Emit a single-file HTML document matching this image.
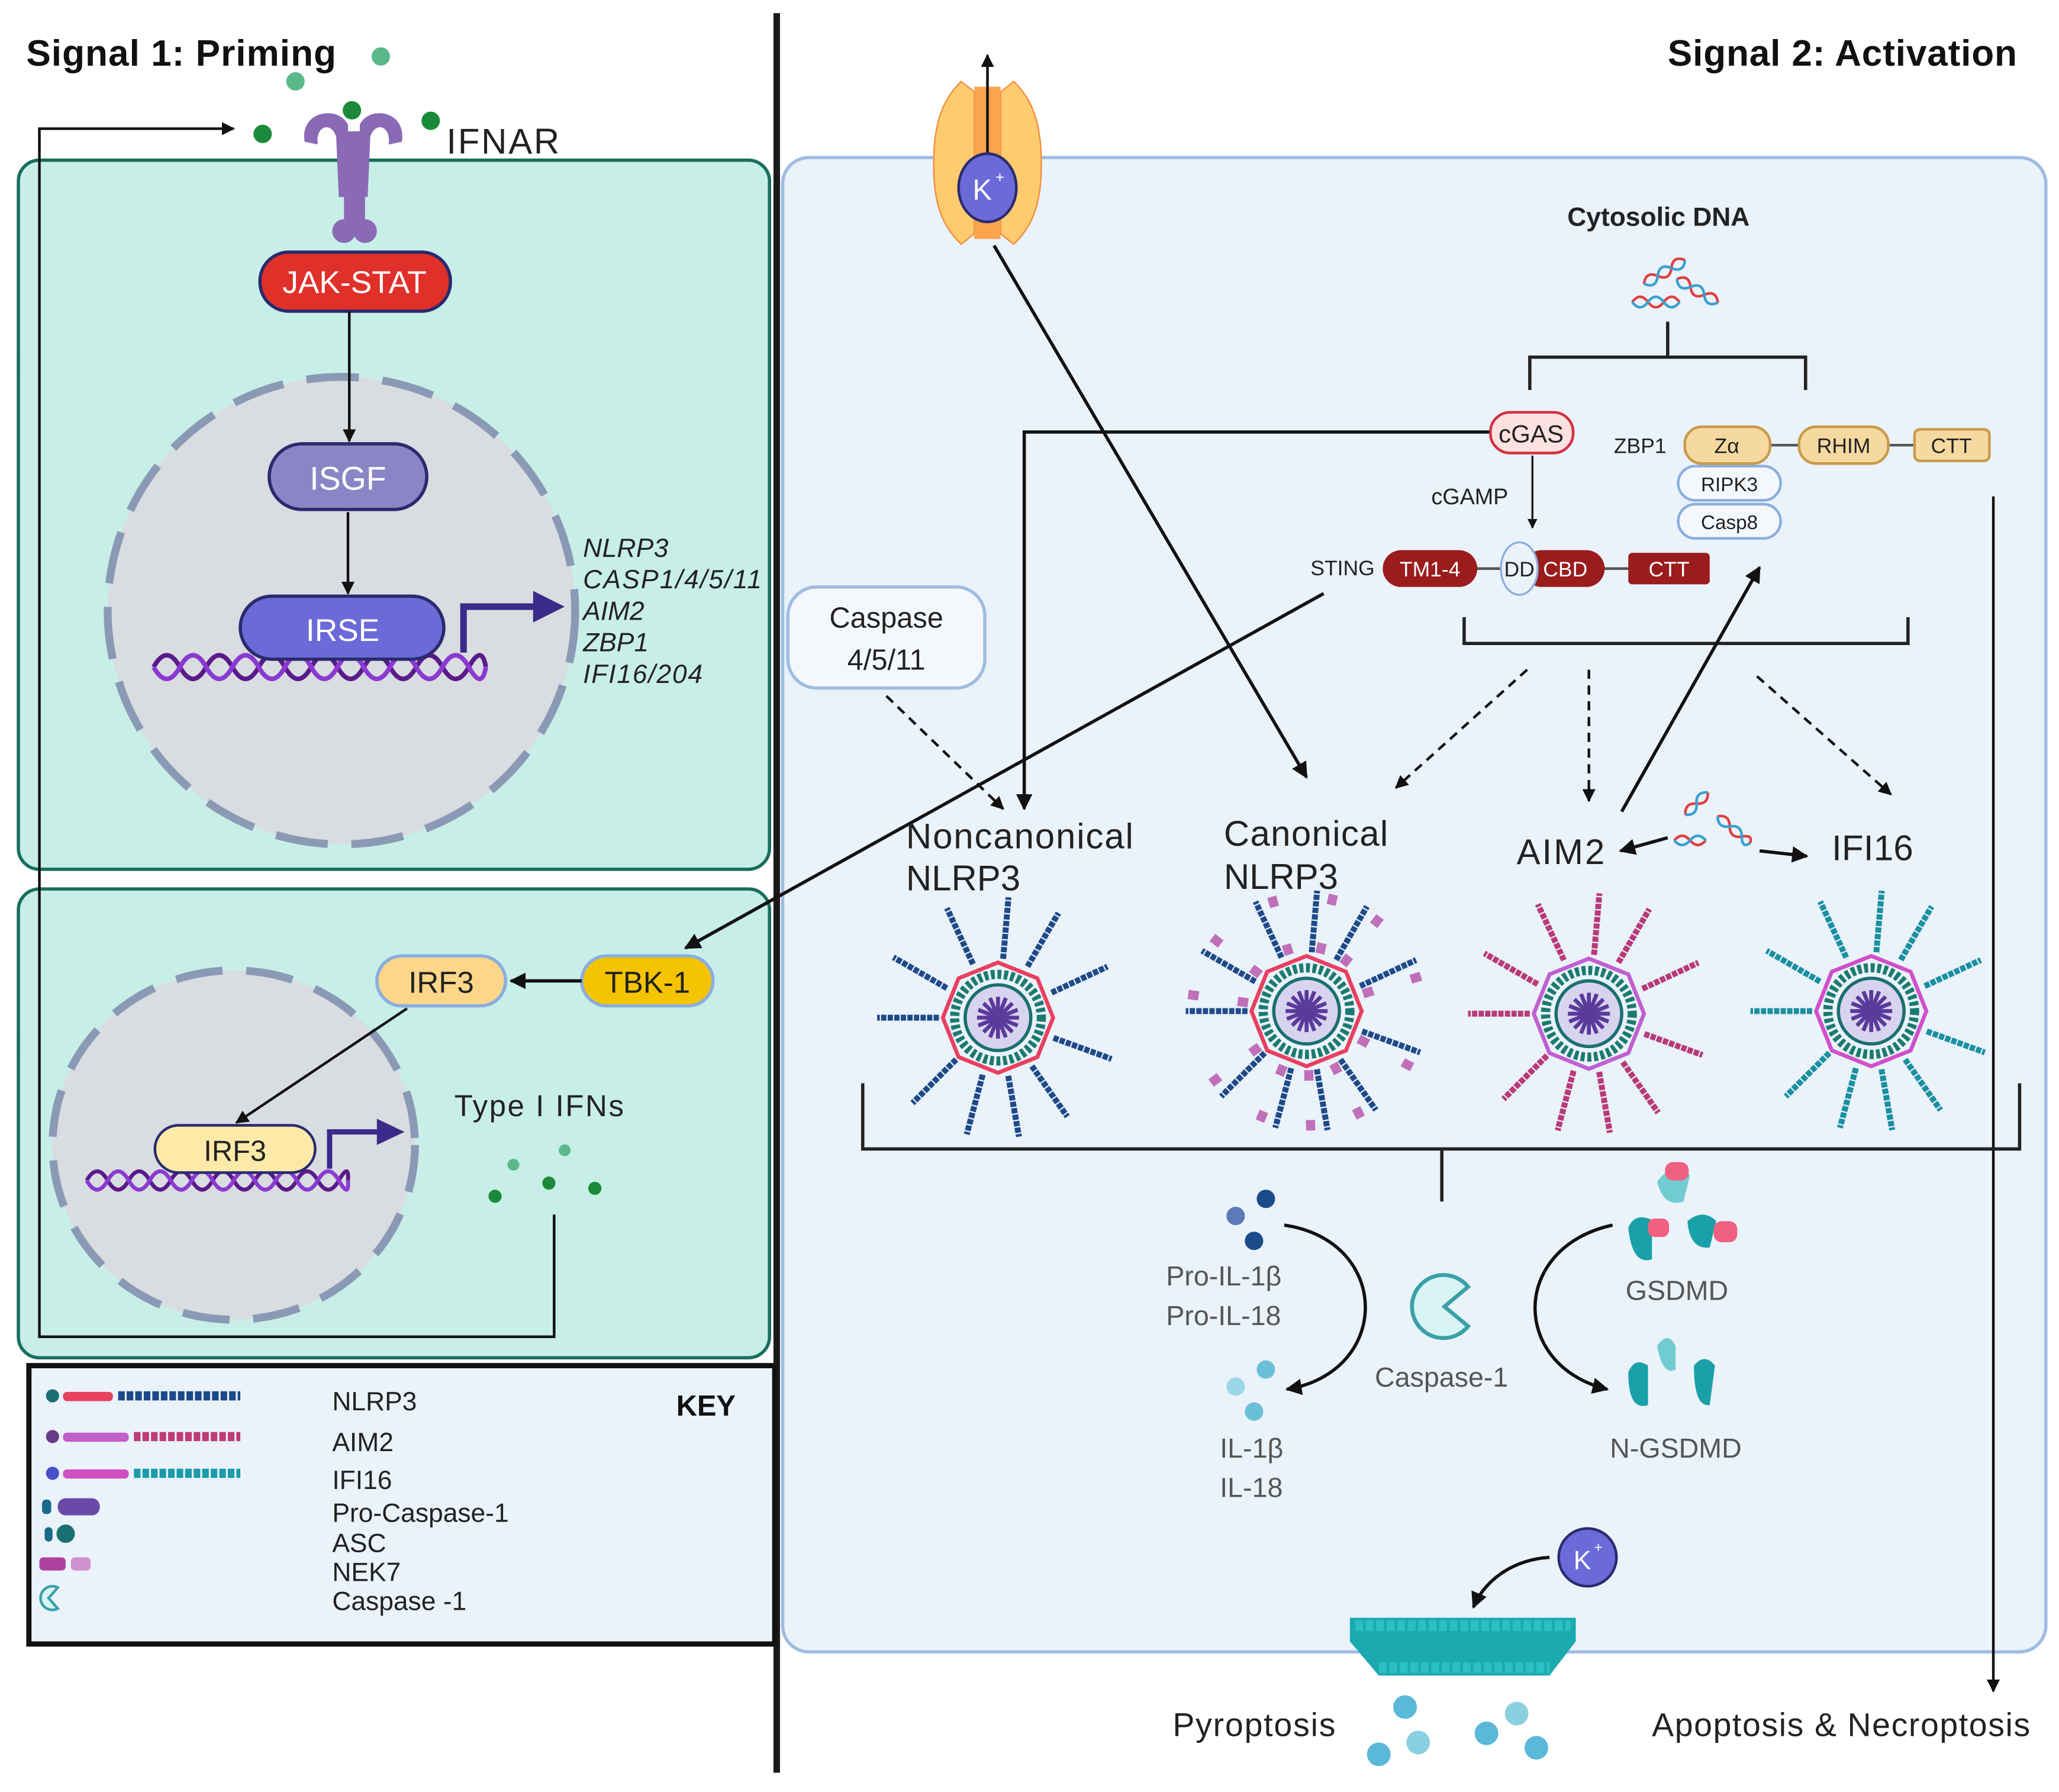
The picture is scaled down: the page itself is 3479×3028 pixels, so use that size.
<!DOCTYPE html>
<html><head><meta charset="utf-8"><style>
html,body{margin:0;padding:0;background:#fff;}
svg{display:block;}
text{font-family:"Liberation Sans",sans-serif;}
</style></head><body>
<svg width="3479" height="3028" viewBox="0 0 1568 1364.7" preserveAspectRatio="none" xmlns="http://www.w3.org/2000/svg">
<defs>
<marker id="ah" viewBox="0 0 10 10" refX="9" refY="5" markerWidth="5" markerHeight="5" orient="auto-start-reverse"><path d="M0,0 L10,5 L0,10 z" fill="#111"/></marker>
<g id="core">
 <circle r="33" fill="none" stroke="#1a7a70" stroke-width="7" stroke-dasharray="3 2"/>
 <circle r="25" fill="#d8d4ef" stroke="#1a7070" stroke-width="2.5"/>
 <g stroke="#5a3a9a" stroke-width="3">
  <line x1="-16" y1="0" x2="16" y2="0"/><line x1="0" y1="-16" x2="0" y2="16"/>
  <line x1="-11" y1="-11" x2="11" y2="11"/><line x1="-11" y1="11" x2="11" y2="-11"/>
  <line x1="-6" y1="-15" x2="6" y2="15"/><line x1="-15" y1="-6" x2="15" y2="6"/>
  <line x1="-6" y1="15" x2="6" y2="-15"/><line x1="-15" y1="6" x2="15" y2="-6"/>
 </g>
</g>
<g id="spokes">
 <line x1="0" y1="-45" x2="0" y2="-92" transform="rotate(-25)"/>
 <line x1="0" y1="-45" x2="0" y2="-92" transform="rotate(5)"/>
 <line x1="0" y1="-45" x2="0" y2="-92" transform="rotate(30)"/>
 <line x1="0" y1="-45" x2="0" y2="-92" transform="rotate(65)"/>
 <line x1="0" y1="-45" x2="0" y2="-92" transform="rotate(110)"/>
 <line x1="0" y1="-45" x2="0" y2="-92" transform="rotate(145)"/>
 <line x1="0" y1="-45" x2="0" y2="-92" transform="rotate(170)"/>
 <line x1="0" y1="-45" x2="0" y2="-92" transform="rotate(195)"/>
 <line x1="0" y1="-45" x2="0" y2="-92" transform="rotate(225)"/>
 <line x1="0" y1="-45" x2="0" y2="-92" transform="rotate(270)"/>
 <line x1="0" y1="-45" x2="0" y2="-92" transform="rotate(300)"/>
</g>
<polygon id="oct" points="0,-42 30,-30 42,0 30,30 0,42 -30,30 -42,0 -30,-30" fill="none" stroke-width="3"/>
</defs>

<rect x="589" y="10" width="5" height="1340" fill="#1a1a1a"/>

<text x="20" y="50" font-size="28" font-weight="bold" fill="#111" textLength="236">Signal 1: Priming</text>
<text x="1270" y="50" font-size="28" font-weight="bold" fill="#111" textLength="266">Signal 2: Activation</text>

<rect x="14" y="122" width="572" height="540" rx="16" fill="#c8eee8" stroke="#1a6e5e" stroke-width="2.5"/>
<rect x="14" y="677" width="572" height="357" rx="16" fill="#c8eee8" stroke="#1a6e5e" stroke-width="2.5"/>

<rect x="22" y="1040" width="568" height="212" fill="#eaf2fa" stroke="#111" stroke-width="4"/>
<text x="515" y="1078" font-size="22" font-weight="bold" fill="#111">KEY</text>
<g font-size="20" fill="#222">
<text x="253" y="1074">NLRP3</text><text x="253" y="1105">AIM2</text><text x="253" y="1134">IFI16</text>
<text x="253" y="1159">Pro-Caspase-1</text><text x="253" y="1182">ASC</text><text x="253" y="1204">NEK7</text><text x="253" y="1226">Caspase -1</text>
</g>
<g>
<circle cx="40" cy="1063" r="5" fill="#1a7070"/><rect x="48" y="1060" width="38" height="7" rx="3" fill="#e84060"/><line x1="90" y1="1063" x2="183" y2="1063" stroke="#1a4a8a" stroke-width="7" stroke-dasharray="5 1.5"/>
<circle cx="40" cy="1094" r="5" fill="#6a3a8a"/><rect x="48" y="1091" width="50" height="7" rx="3" fill="#c060c8"/><line x1="102" y1="1094" x2="183" y2="1094" stroke="#c03a7a" stroke-width="7" stroke-dasharray="5 1.5"/>
<circle cx="40" cy="1122" r="5" fill="#4a50c8"/><rect x="48" y="1119" width="50" height="7" rx="3" fill="#d050c0"/><line x1="102" y1="1122" x2="183" y2="1122" stroke="#1a9aaa" stroke-width="7" stroke-dasharray="5 1.5"/>
<rect x="32" y="1142" width="7" height="11" rx="3" fill="#1a6a8a"/><rect x="44" y="1141" width="32" height="13" rx="6" fill="#6a4aa8"/>
<rect x="34" y="1163" width="6" height="11" rx="3" fill="#1a6a8a"/><ellipse cx="50" cy="1168" rx="7" ry="7" fill="#1a7070"/>
<rect x="30" y="1186" width="20" height="10" rx="3" fill="#b040a0"/><rect x="54" y="1186" width="15" height="10" rx="3" fill="#d090d0"/>
<path d="M44,1209 A9,9 0 1 0 44,1225 L37,1217 z" fill="#d8f4f4" stroke="#3aa0a8" stroke-width="2"/>
</g>

<polyline points="422,925 422,1018 30,1018 30,98 178,98" fill="none" stroke="#111" stroke-width="2" marker-end="url(#ah)"/>

<circle cx="290" cy="43" r="7" fill="#5ab88a"/><circle cx="225" cy="62" r="7" fill="#5ab88a"/>
<circle cx="268" cy="84" r="7" fill="#1a8a3a"/><circle cx="200" cy="102" r="7" fill="#1a8a3a"/><circle cx="328" cy="92" r="7" fill="#1a8a3a"/>

<g fill="#8a6ab5">
<path d="M232,108 C228,84 258,80 265,95 L265,150 L274,150 L274,95 C281,80 310,84 306,108 L296,110 C298,96 286,92 282,104 L280,150 L258,150 L256,104 C252,92 240,96 242,110 z"/>
<rect x="262" y="100" width="16" height="80" rx="4"/>
<ellipse cx="262" cy="176" rx="9" ry="9"/><ellipse cx="278" cy="176" rx="9" ry="9"/>
</g>
<text x="340" y="117" font-size="27" fill="#222" textLength="86">IFNAR</text>

<rect x="198" y="192" width="145" height="45" rx="22" fill="#e0302a" stroke="#2a2a6e" stroke-width="2.5"/>
<text x="270" y="223" font-size="24" fill="#fff" text-anchor="middle">JAK-STAT</text>

<circle cx="260" cy="465" r="178" fill="#d9dce0" stroke="#8a9ab5" stroke-width="6" stroke-dasharray="40 18"/>
<line x1="266" y1="237" x2="266" y2="336" stroke="#111" stroke-width="2" marker-end="url(#ah)"/>
<rect x="205" y="338" width="120" height="50" rx="25" fill="#8a85c5" stroke="#2a2a6e" stroke-width="2.5"/>
<text x="265" y="373" font-size="25" fill="#fff" text-anchor="middle">ISGF</text>
<line x1="265" y1="390" x2="265" y2="452" stroke="#111" stroke-width="2" marker-end="url(#ah)"/>
<path d="M117,508 q10,-18 20,0 t20,0 t20,0 t20,0 t20,0 t20,0 t20,0 t20,0 t20,0 t20,0 t20,0 t20,0 t13,0" fill="none" stroke="#5a1a8a" stroke-width="3.5"/>
<path d="M117,508 q10,18 20,0 t20,0 t20,0 t20,0 t20,0 t20,0 t20,0 t20,0 t20,0 t20,0 t20,0 t20,0 t13,0" fill="none" stroke="#8a3ad0" stroke-width="3.5"/>
<rect x="183" y="454" width="155" height="48" rx="24" fill="#6b6ad8" stroke="#2a2a6e" stroke-width="2.5"/>
<text x="261" y="488" font-size="24" fill="#fff" text-anchor="middle">IRSE</text>
<polyline points="353,497 353,462 410,462" fill="none" stroke="#3a2a8a" stroke-width="5"/>
<path d="M406,450 L430,462 L406,474 z" fill="#3a2a8a"/>
<g font-size="20" font-style="italic" fill="#222">
<text x="444" y="424" textLength="65">NLRP3</text><text x="444" y="448" textLength="136">CASP1/4/5/11</text><text x="444" y="472">AIM2</text><text x="444" y="496">ZBP1</text><text x="444" y="520" textLength="91">IFI16/204</text>
</g>

<ellipse cx="178" cy="872" rx="138" ry="133" fill="#d9dce0" stroke="#8a9ab5" stroke-width="6" stroke-dasharray="36 18"/>
<rect x="287" y="728" width="98" height="38" rx="19" fill="#fdd68a" stroke="#8aaedd" stroke-width="2.5"/>
<text x="336" y="756" font-size="23" fill="#222" text-anchor="middle">IRF3</text>
<rect x="443" y="728" width="100" height="38" rx="19" fill="#f5c400" stroke="#8aaedd" stroke-width="2.5"/>
<text x="493" y="756" font-size="23" fill="#222" text-anchor="middle">TBK-1</text>
<line x1="443" y1="747" x2="389" y2="747" stroke="#111" stroke-width="2.5" marker-end="url(#ah)"/>
<line x1="310" y1="768" x2="180" y2="855" stroke="#111" stroke-width="2" marker-end="url(#ah)"/>
<path d="M66,899 q8,-14 16,0 t16,0 t16,0 t16,0 t16,0 t16,0 t16,0 t16,0 t16,0 t16,0 t16,0 t16,0 t7,0" fill="none" stroke="#5a1a8a" stroke-width="3"/>
<path d="M66,899 q8,14 16,0 t16,0 t16,0 t16,0 t16,0 t16,0 t16,0 t16,0 t16,0 t16,0 t16,0 t16,0 t7,0" fill="none" stroke="#8a3ad0" stroke-width="3"/>
<rect x="118" y="857" width="122" height="36" rx="18" fill="#fde9a8" stroke="#2a2a6e" stroke-width="2"/>
<text x="179" y="884" font-size="22" fill="#222" text-anchor="middle">IRF3</text>
<polyline points="251,890 251,862 290,862" fill="none" stroke="#3a2a8a" stroke-width="4"/>
<path d="M287,852 L308,862 L287,872 z" fill="#3a2a8a"/>
<text x="346" y="850" font-size="23" fill="#222" textLength="129">Type I IFNs</text>
<circle cx="391" cy="887" r="4.5" fill="#5ab88a"/><circle cx="430" cy="876" r="4.5" fill="#5ab88a"/>
<circle cx="377" cy="911" r="5" fill="#1a8a3a"/><circle cx="418" cy="901" r="5" fill="#1a8a3a"/><circle cx="453" cy="905" r="5" fill="#1a8a3a"/>

<rect x="596" y="120" width="962" height="1138" rx="20" fill="#eaf2fa" stroke="#a0bde0" stroke-width="2.5"/>

<line x1="1008" y1="452" x2="522" y2="722" stroke="#111" stroke-width="2.5" marker-end="url(#ah)"/>

<path d="M732,62 L742,70 L742,178 L732,186 C715,170 711,150 711,125 C711,100 715,78 732,62 z" fill="#fecb6e" stroke="#f08a3a" stroke-width="1"/>
<path d="M772,62 L762,70 L762,178 L772,186 C789,170 793,150 793,125 C793,100 789,78 772,62 z" fill="#fecb6e" stroke="#f08a3a" stroke-width="1"/>
<rect x="742" y="66" width="20" height="116" fill="#fba34e"/>
<line x1="752" y1="135" x2="752" y2="42" stroke="#111" stroke-width="2" marker-end="url(#ah)"/>
<ellipse cx="752" cy="143" rx="22" ry="26" fill="#6a6ad8" stroke="#2a2a6e" stroke-width="2"/>
<text x="748" y="152" font-size="22" fill="#fff" text-anchor="middle">K</text><text x="758" y="139" font-size="12" fill="#fff">+</text>

<line x1="757" y1="187" x2="995" y2="592" stroke="#111" stroke-width="2.5" marker-end="url(#ah)"/>

<text x="1263" y="172" font-size="20" font-weight="bold" fill="#222" text-anchor="middle">Cytosolic DNA</text>
<g fill="none" stroke-width="2">
<path d="M1245,210 q6,-8 12,0 t12,0 t12,0" stroke="#e04040" transform="rotate(-30 1260 200)"/>
<path d="M1245,210 q6,8 12,0 t12,0 t12,0" stroke="#3aa0d0" transform="rotate(-30 1260 200)"/>
<path d="M1243,230 q6,-8 12,0 t12,0 t12,0" stroke="#e04040"/>
<path d="M1243,230 q6,8 12,0 t12,0 t12,0" stroke="#3aa0d0"/>
<path d="M1275,220 q6,-8 12,0 t12,0 t12,0" stroke="#e04040" transform="rotate(30 1290 220)"/>
<path d="M1275,220 q6,8 12,0 t12,0 t12,0" stroke="#3aa0d0" transform="rotate(30 1290 220)"/>
</g>
<polyline points="1165,297 1165,272 1375,272 1375,297" fill="none" stroke="#222" stroke-width="2.5"/>
<line x1="1270" y1="245" x2="1270" y2="272" stroke="#222" stroke-width="2.5"/>

<polyline points="1135,329 780,329 780,616" fill="none" stroke="#111" stroke-width="2.5" marker-end="url(#ah)"/>
<rect x="1135" y="314" width="63" height="31" rx="15" fill="#fde0e0" stroke="#d03040" stroke-width="2"/>
<text x="1166" y="337" font-size="19" fill="#222" text-anchor="middle">cGAS</text>
<text x="1090" y="384" font-size="17" fill="#222">cGAMP</text>
<line x1="1167" y1="347" x2="1167" y2="402" stroke="#111" stroke-width="1.5" marker-end="url(#ah)"/>

<text x="1229" y="345" font-size="16" fill="#222">ZBP1</text>
<line x1="1348" y1="339" x2="1458" y2="339" stroke="#555" stroke-width="2"/>
<rect x="1283" y="325" width="65" height="28" rx="13" fill="#f6d9a0" stroke="#c89a4a" stroke-width="2"/>
<text x="1315" y="345" font-size="16" fill="#222" text-anchor="middle">Zα</text>
<rect x="1370" y="325" width="68" height="28" rx="13" fill="#f6d9a0" stroke="#c89a4a" stroke-width="2"/>
<text x="1404" y="345" font-size="16" fill="#222" text-anchor="middle">RHIM</text>
<rect x="1458" y="327" width="57" height="24" rx="4" fill="#f6d9a0" stroke="#c89a4a" stroke-width="2"/>
<text x="1486" y="345" font-size="16" fill="#222" text-anchor="middle">CTT</text>
<rect x="1278" y="355" width="78" height="26" rx="13" fill="#f4f8fd" stroke="#8aaedd" stroke-width="2"/>
<text x="1317" y="374" font-size="15" fill="#222" text-anchor="middle">RIPK3</text>
<rect x="1278" y="384" width="78" height="26" rx="13" fill="#f4f8fd" stroke="#8aaedd" stroke-width="2"/>
<text x="1317" y="403" font-size="15" fill="#222" text-anchor="middle">Casp8</text>

<text x="998" y="438" font-size="16" fill="#222">STING</text>
<line x1="1120" y1="433" x2="1245" y2="433" stroke="#555" stroke-width="2"/>
<rect x="1053" y="419" width="72" height="28" rx="14" fill="#9a1c1c"/>
<text x="1089" y="439" font-size="16" fill="#fff" text-anchor="middle">TM1-4</text>
<rect x="1160" y="419" width="62" height="28" rx="14" fill="#9a1c1c"/>
<text x="1192" y="439" font-size="16" fill="#fff" text-anchor="middle">CBD</text>
<ellipse cx="1157" cy="433" rx="14" ry="20" fill="#eaf2fa" stroke="#8aaedd" stroke-width="1.5"/>
<text x="1157" y="439" font-size="16" fill="#222" text-anchor="middle">DD</text>
<rect x="1240" y="421" width="62" height="24" rx="3" fill="#9a1c1c"/>
<text x="1271" y="439" font-size="16" fill="#fff" text-anchor="middle">CTT</text>

<polyline points="1115,470 1115,490 1453,490 1453,470" fill="none" stroke="#222" stroke-width="2.5"/>
<g stroke="#111" stroke-width="2" stroke-dasharray="7 5" fill="none">
<line x1="1163" y1="510" x2="1063" y2="600" marker-end="url(#ah)"/>
<line x1="1210" y1="510" x2="1210" y2="610" marker-end="url(#ah)"/>
<line x1="1338" y1="515" x2="1440" y2="605" marker-end="url(#ah)"/>
<line x1="675" y1="530" x2="764" y2="616" marker-end="url(#ah)"/>
</g>
<line x1="1235" y1="618" x2="1340" y2="432" stroke="#111" stroke-width="2.5" marker-end="url(#ah)"/>
<line x1="1518" y1="378" x2="1518" y2="1288" stroke="#111" stroke-width="2" marker-end="url(#ah)"/>

<rect x="600" y="447" width="150" height="77" rx="22" fill="#f4f8fd" stroke="#a0bde0" stroke-width="2.5"/>
<text x="675" y="478" font-size="22" fill="#222" text-anchor="middle">Caspase</text>
<text x="675" y="510" font-size="22" fill="#222" text-anchor="middle">4/5/11</text>

<g font-size="27" fill="#222">
<text x="690" y="646" textLength="173">Noncanonical</text><text x="690" y="678">NLRP3</text>
<text x="932" y="644" textLength="125">Canonical</text><text x="932" y="677">NLRP3</text>
<text x="1155" y="658" textLength="67">AIM2</text><text x="1395" y="655" textLength="62">IFI16</text>
</g>
<line x1="1270" y1="638" x2="1234" y2="648" stroke="#111" stroke-width="2.5" marker-end="url(#ah)"/>
<line x1="1340" y1="648" x2="1376" y2="652" stroke="#111" stroke-width="2.5" marker-end="url(#ah)"/>
<g fill="none" stroke-width="2">
<path d="M1280,612 q6,-7 12,0 t12,0" stroke="#e04040" transform="rotate(-45 1292 612)"/>
<path d="M1280,612 q6,7 12,0 t12,0" stroke="#3aa0d0" transform="rotate(-45 1292 612)"/>
<path d="M1275,640 q6,-7 12,0 t12,0" stroke="#e04040"/>
<path d="M1275,640 q6,7 12,0 t12,0" stroke="#3aa0d0"/>
<path d="M1305,630 q6,-7 12,0 t12,0 t8,0" stroke="#e04040" transform="rotate(40 1318 630)"/>
<path d="M1305,630 q6,7 12,0 t12,0 t8,0" stroke="#3aa0d0" transform="rotate(40 1318 630)"/>
</g>

<g transform="translate(760,775)">
 <use href="#spokes" stroke="#1f4a88" stroke-width="4.5" stroke-dasharray="4 1"/>
 <use href="#oct" stroke="#e84060"/><use href="#core"/>
</g>
<g transform="translate(995,770)">
 <use href="#spokes" stroke="#1f4a88" stroke-width="4.5" stroke-dasharray="4 1"/>
 <use href="#spokes" stroke="#c070b8" stroke-width="7" stroke-dasharray="8 30" transform="rotate(8)"/>
 <use href="#oct" stroke="#e84060"/><use href="#core"/>
</g>
<g transform="translate(1210,772)">
 <use href="#spokes" stroke="#b83a78" stroke-width="4.5" stroke-dasharray="4 1"/>
 <use href="#oct" stroke="#c060d0"/><use href="#core"/>
</g>
<g transform="translate(1425,770)">
 <use href="#spokes" stroke="#1a90a0" stroke-width="4.5" stroke-dasharray="4 1"/>
 <use href="#oct" stroke="#d050c8"/><use href="#core"/>
</g>

<polyline points="657,825 657,875 1538,875 1538,825" fill="none" stroke="#222" stroke-width="2.5"/>
<line x1="1098" y1="875" x2="1098" y2="915" stroke="#222" stroke-width="2.5"/>

<circle cx="964" cy="913" r="7" fill="#1a4a8a"/><circle cx="941" cy="926" r="7" fill="#5a7ab8"/><circle cx="955" cy="945" r="7" fill="#1a4a8a"/>
<g font-size="21" fill="#555">
<text x="888" y="979">Pro-IL-1β</text><text x="888" y="1009">Pro-IL-18</text>
<text x="929" y="1110">IL-1β</text><text x="929" y="1140">IL-18</text>
<text x="1047" y="1056">Caspase-1</text>
<text x="1238" y="990">GSDMD</text><text x="1226" y="1110">N-GSDMD</text>
</g>
<circle cx="964" cy="1043" r="7" fill="#6ac0d8"/><circle cx="941" cy="1056" r="7" fill="#9ad8e8"/><circle cx="955" cy="1075" r="7" fill="#6ac0d8"/>
<path d="M978,933 C1060,945 1060,1045 980,1058" fill="none" stroke="#111" stroke-width="2.5" marker-end="url(#ah)"/>
<path d="M1228,933 C1150,950 1150,1040 1224,1058" fill="none" stroke="#111" stroke-width="2.5" marker-end="url(#ah)"/>
<path d="M1118,980 A24,24 0 1 0 1118,1010 L1100,995 z" fill="#d8f4f4" stroke="#3aa0a8" stroke-width="3"/>
<g fill="#1aa0a8">
<path d="M1262,900 q10,-15 25,-5 l-5,20 q-15,5 -20,-15 z" fill="#70ccd0"/>
<rect x="1268" y="885" width="18" height="14" rx="6" fill="#f06080"/>
<path d="M1240,935 q5,-12 18,-6 l0,30 q-15,5 -18,-24 z"/>
<rect x="1255" y="928" width="16" height="14" rx="5" fill="#f06080"/>
<path d="M1285,930 q12,-10 22,0 l-5,20 q-15,2 -17,-20 z"/>
<rect x="1305" y="930" width="18" height="16" rx="6" fill="#f06080"/>
<path d="M1240,1045 q5,-12 15,-5 l0,30 q-15,5 -15,-25 z"/>
<path d="M1262,1025 q8,-12 14,0 l0,18 q-10,5 -14,-18 z" fill="#70ccd0"/>
<path d="M1290,1040 q8,-10 16,0 l-4,30 q-12,2 -12,-30 z"/>
</g>

<ellipse cx="1209" cy="1186" rx="22" ry="22" fill="#6a6ad8" stroke="#2a2a6e" stroke-width="2"/>
<text x="1205" y="1195" font-size="20" fill="#fff" text-anchor="middle">K</text><text x="1214" y="1182" font-size="11" fill="#fff">+</text>
<path d="M1180,1186 C1150,1188 1130,1205 1122,1224" fill="none" stroke="#111" stroke-width="2.5" marker-end="url(#ah)"/>
<path d="M1028,1232 L1200,1232 L1200,1250 L1180,1276 L1050,1276 L1028,1250 z" fill="#1aaab0"/>
<line x1="1032" y1="1238" x2="1196" y2="1238" stroke="#2ac0c4" stroke-width="8" stroke-dasharray="6 2"/>
<line x1="1050" y1="1270" x2="1180" y2="1270" stroke="#2ac0c4" stroke-width="8" stroke-dasharray="6 2"/>

<text x="893" y="1322" font-size="25" fill="#222" textLength="124">Pyroptosis</text>
<text x="1258" y="1322" font-size="25" fill="#222" textLength="288">Apoptosis &amp; Necroptosis</text>
<g fill="#5ab8d8">
<circle cx="1070" cy="1300" r="9"/><circle cx="1080" cy="1327" r="9" fill="#8ad0e0"/><circle cx="1050" cy="1336" r="9"/>
<circle cx="1155" cy="1305" r="9" fill="#8ad0e0"/><circle cx="1132" cy="1320" r="9"/><circle cx="1170" cy="1331" r="9"/>
</g>
</svg>
</body></html>
